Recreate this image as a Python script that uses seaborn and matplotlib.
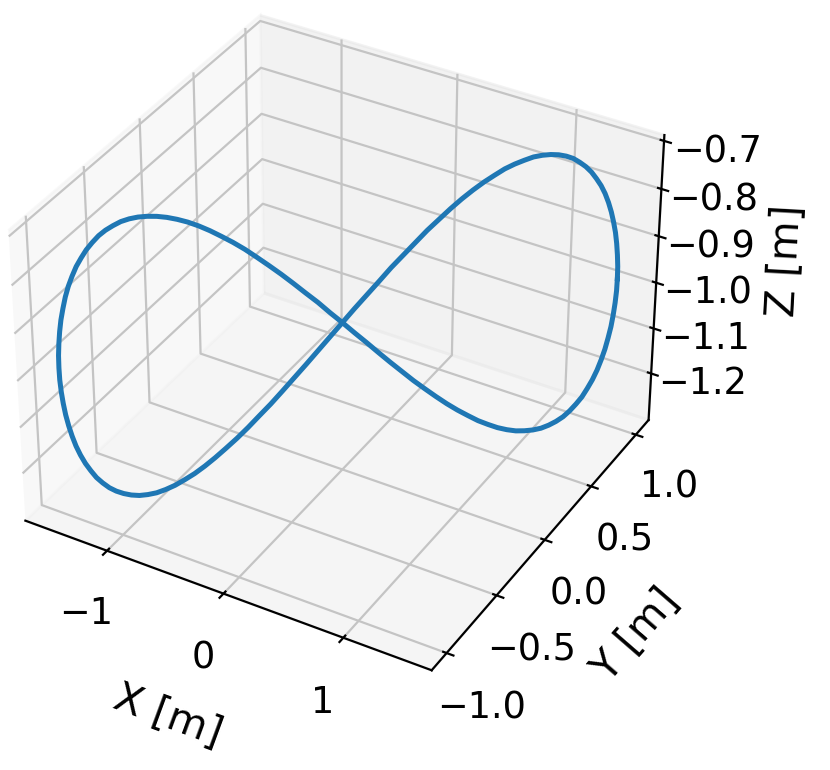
import pandas as pd
import matplotlib
matplotlib.use("Agg")
import matplotlib.pyplot as plt
import seaborn as sns

# trajectory, metres
x_m = [1.5, 1.499, 1.494, 1.487, 1.477, 1.464, 1.449, 1.431, 1.41, 1.386, 1.359, 1.331, 1.299, 1.265, 1.229, 1.19, 1.149, 1.106, 1.061, 1.013, 0.964, 0.913, 0.86, 0.806, 0.75, 0.693, 0.634, 0.574, 0.513, 0.451, 0.388, 0.325, 0.26, 0.196, 0.131, 0.065, 0.0,
       -0.065, -0.131, -0.196, -0.26, -0.325, -0.388, -0.451, -0.513, -0.574, -0.634, -0.693, -0.75, -0.806, -0.86, -0.913, -0.964, -1.013, -1.061, -1.106, -1.149, -1.19, -1.229, -1.265, -1.299, -1.331, -1.359, -1.386, -1.41, -1.431, -1.449, -1.464, -1.477, -1.487, -1.494, -1.499, -1.5,
       -1.499, -1.494, -1.487, -1.477, -1.464, -1.449, -1.431, -1.41, -1.386, -1.359, -1.331, -1.299, -1.265, -1.229, -1.19, -1.149, -1.106, -1.061, -1.013, -0.964, -0.913, -0.86, -0.806, -0.75, -0.693, -0.634, -0.574, -0.513, -0.451, -0.388, -0.325, -0.26, -0.196, -0.131, -0.065, 0.0,
       0.065, 0.131, 0.196, 0.26, 0.325, 0.388, 0.451, 0.513, 0.574, 0.634, 0.693, 0.75, 0.806, 0.86, 0.913, 0.964, 1.013, 1.061, 1.106, 1.149, 1.19, 1.229, 1.265, 1.299, 1.331, 1.359, 1.386, 1.41, 1.431, 1.449, 1.464, 1.477, 1.487, 1.494, 1.499, 1.5]
y_m = [1.0, 0.999, 0.996, 0.991, 0.985, 0.976, 0.966, 0.954, 0.94, 0.924, 0.906, 0.887, 0.866, 0.843, 0.819, 0.793, 0.766, 0.737, 0.707, 0.676, 0.643, 0.609, 0.574, 0.537, 0.5, 0.462, 0.423, 0.383, 0.342, 0.301, 0.259, 0.216, 0.174, 0.131, 0.087, 0.044, 0.0,
       -0.044, -0.087, -0.131, -0.174, -0.216, -0.259, -0.301, -0.342, -0.383, -0.423, -0.462, -0.5, -0.537, -0.574, -0.609, -0.643, -0.676, -0.707, -0.737, -0.766, -0.793, -0.819, -0.843, -0.866, -0.887, -0.906, -0.924, -0.94, -0.954, -0.966, -0.976, -0.985, -0.991, -0.996, -0.999, -1.0,
       -0.999, -0.996, -0.991, -0.985, -0.976, -0.966, -0.954, -0.94, -0.924, -0.906, -0.887, -0.866, -0.843, -0.819, -0.793, -0.766, -0.737, -0.707, -0.676, -0.643, -0.609, -0.574, -0.537, -0.5, -0.462, -0.423, -0.383, -0.342, -0.301, -0.259, -0.216, -0.174, -0.131, -0.087, -0.044, 0.0,
       0.044, 0.087, 0.131, 0.174, 0.216, 0.259, 0.301, 0.342, 0.383, 0.423, 0.462, 0.5, 0.537, 0.574, 0.609, 0.643, 0.676, 0.707, 0.737, 0.766, 0.793, 0.819, 0.843, 0.866, 0.887, 0.906, 0.924, 0.94, 0.954, 0.966, 0.976, 0.985, 0.991, 0.996, 0.999, 1.0]
z_m = [-0.978, -0.952, -0.927, -0.902, -0.878, -0.855, -0.833, -0.812, -0.792, -0.774, -0.758, -0.743, -0.73, -0.719, -0.709, -0.702, -0.697, -0.694, -0.693, -0.694, -0.698, -0.703, -0.71, -0.72, -0.731, -0.744, -0.759, -0.776, -0.795, -0.814, -0.836, -0.858, -0.881, -0.906, -0.931, -0.956, -0.982,
       -1.008, -1.034, -1.06, -1.085, -1.11, -1.134, -1.156, -1.178, -1.198, -1.216, -1.233, -1.248, -1.261, -1.271, -1.28, -1.286, -1.29, -1.291, -1.29, -1.286, -1.28, -1.272, -1.262, -1.249, -1.235, -1.218, -1.2, -1.18, -1.159, -1.136, -1.113, -1.088, -1.063, -1.038, -1.012, -0.986,
       -0.96, -0.935, -0.91, -0.886, -0.863, -0.84, -0.819, -0.8, -0.781, -0.765, -0.75, -0.737, -0.725, -0.716, -0.709, -0.703, -0.7, -0.699, -0.7, -0.703, -0.708, -0.715, -0.724, -0.735, -0.748, -0.763, -0.779, -0.797, -0.817, -0.838, -0.86, -0.883, -0.907, -0.931, -0.957, -0.982,
       -1.008, -1.033, -1.059, -1.084, -1.108, -1.132, -1.154, -1.175, -1.195, -1.213, -1.229, -1.244, -1.256, -1.267, -1.275, -1.281, -1.284, -1.285, -1.284, -1.28, -1.274, -1.266, -1.255, -1.242, -1.228, -1.211, -1.193, -1.173, -1.151, -1.129, -1.105, -1.081, -1.055, -1.03, -1.004, -0.978]

x_ticks = [-1, 0, 1]
y_ticks = [-1.0, -0.5, 0.0, 0.5, 1.0]
z_ticks = [-1.2, -1.1, -1.0, -0.9, -0.8, -0.7]

traj = pd.DataFrame({"x": x_m, "y": y_m, "z": z_m})
line_color = sns.color_palette("tab10")[0]

plt.rcParams["font.size"] = 13.2
plt.rcParams["grid.color"] = "#c4c4c4"

fig = plt.figure(figsize=(4.15, 3.85), dpi=200)
ax = fig.add_subplot(projection="3d")
ax.set_position([-0.0418, 0.0875, 0.885, 0.944])
ax.view_init(elev=35, azim=-60)

ax.plot(traj["x"], traj["y"], traj["z"], color=line_color, linewidth=1.8)

ax.set_zlim(-1.305, -0.688)
ax.set_xticks(x_ticks)
ax.set_yticks(y_ticks)
ax.set_zticks(z_ticks)
ax.set_xlabel("X [m]", labelpad=10, fontsize=14.7)
ax.set_ylabel("Y [m]", labelpad=10, fontsize=14.7)
ax.set_zlabel("Z [m]", labelpad=8, fontsize=14.7)

fig.savefig("out.png", dpi=200)
